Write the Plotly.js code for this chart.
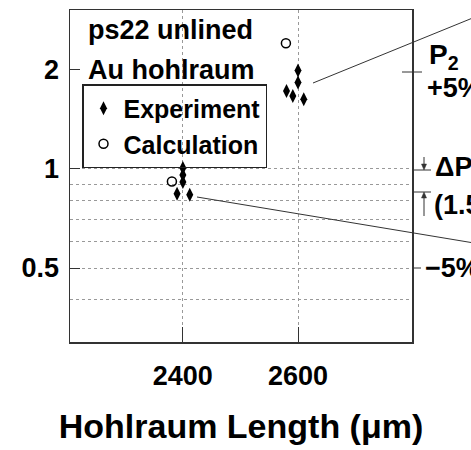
<!DOCTYPE html>
<html>
<head>
<meta charset="utf-8">
<script src="https://cdn.plot.ly/plotly-3.0.1.min.js"></script>
<style>html,body{margin:0;padding:0;background:#fff;}</style>
</head>
<body>
<div id="chart" style="width:471px;height:450px;"></div>
<script>
// Data
var expLength = [2400, 2400, 2400, 2390, 2412, 2600, 2600, 2580, 2591, 2610];
var expValue  = [1.007, 0.959, 0.913, 0.840, 0.835, 1.99, 1.83, 1.726, 1.667, 1.629];
var calcLength = [2381, 2579];
var calcValue  = [0.916, 2.41];
var yTickVals = [0.5, 1, 2];
var yTickText = ['0.5', '1', '2'];
var xTickVals = [2400, 2600];
var xTickText = ['2400', '2600'];
var yGridVals = [0.4, 0.5, 0.6, 0.7, 0.8, 0.9, 1];

var FONT = 'Liberation Sans, Arial, Helvetica, sans-serif';
var yRange = [Math.log10(0.298), Math.log10(3.04)];

var traces = [
  {x: expLength, y: expValue, type: 'scatter', mode: 'markers', name: 'Experiment',
   marker: {symbol: 'diamond-tall', size: 10, color: '#000'}},
  {x: calcLength, y: calcValue, type: 'scatter', mode: 'markers', name: 'Calculation',
   marker: {symbol: 'circle-open', size: 9, color: '#000', line: {width: 1.5, color: '#000'}}},
  // carrier for the dotted horizontal grid axis (no points)
  {x: [], y: [], type: 'scatter', mode: 'markers', yaxis: 'y2', showlegend: false, hoverinfo: 'skip'}
];

function px(p) { return (p - 70) / 342; }
function py(p) { return (342 - p) / 332; }
var LC = '#333';

function lineShape(x0, y0, x1, y1) {
  return {type: 'line', xref: 'paper', yref: 'paper', x0: px(x0), y0: py(y0), x1: px(x1), y1: py(y1),
          line: {color: LC, width: 1}};
}
function headShape(xc, ytip, dir) {
  var h = 6 * dir, w = 2.5;
  var p = 'M ' + px(xc) + ' ' + py(ytip) + ' L ' + px(xc - w) + ' ' + py(ytip - h) +
          ' L ' + px(xc + w) + ' ' + py(ytip - h) + ' Z';
  return {type: 'path', xref: 'paper', yref: 'paper', path: p,
          fillcolor: LC, line: {color: LC, width: 0.5}};
}

var layout = {
  width: 471, height: 450,
  margin: {l: 70, r: 59, t: 10, b: 108},
  paper_bgcolor: '#fff', plot_bgcolor: '#fff',
  font: {family: FONT, color: '#000', size: 26, weight: 'bold'},
  showlegend: true,
  legend: {x: px(82), y: py(84), xanchor: 'left', yanchor: 'top',
           bgcolor: 'rgba(0,0,0,0)', bordercolor: '#222', borderwidth: 1.5,
           font: {family: FONT, size: 25, weight: 'bold', color: '#000'},
           itemwidth: 30, tracegroupgap: 0},
  xaxis: {
    range: [2204, 2798], tickmode: 'array', tickvals: xTickVals, ticktext: xTickText,
    ticks: 'inside', ticklen: 15, tickwidth: 1, tickcolor: LC,
    showline: true, linecolor: LC, linewidth: 1.5, mirror: true,
    showgrid: true, gridcolor: '#999', griddash: 'dot', gridwidth: 1, zeroline: false,
    tickfont: {family: FONT, size: 27, weight: 'bold'}, ticklabelstandoff: 9,
    title: {text: 'Hohlraum Length (\u03bcm)', font: {family: FONT, size: 34, weight: 'bold'}, standoff: 24}
  },
  yaxis: {
    type: 'log', range: yRange,
    tickmode: 'array', tickvals: yTickVals, ticktext: yTickText,
    ticks: 'inside', ticklen: 10, tickwidth: 1, tickcolor: LC,
    showline: true, linecolor: LC, linewidth: 1.5, mirror: true,
    showgrid: false, zeroline: false,
    tickfont: {family: FONT, size: 27, weight: 'bold'}, ticklabelstandoff: 4
  },
  yaxis2: {
    type: 'log', range: yRange, overlaying: 'y', side: 'left',
    tickmode: 'array', tickvals: yGridVals, showticklabels: false, ticks: '',
    showgrid: true, gridcolor: '#999', griddash: 'dot', gridwidth: 1,
    showline: false, zeroline: false
  },
  annotations: [
    {xref: 'paper', yref: 'paper', x: px(86), y: py(30), xanchor: 'left', yanchor: 'middle',
     text: 'ps22 unlined', showarrow: false, font: {family: FONT, size: 27, weight: 'bold'}},
    {xref: 'paper', yref: 'paper', x: px(86), y: py(70), xanchor: 'left', yanchor: 'middle',
     text: 'Au hohlraum', showarrow: false, font: {family: FONT, size: 27, weight: 'bold'}},
    {xref: 'paper', yref: 'paper', x: px(427), y: py(57), xanchor: 'left', yanchor: 'middle',
     text: 'P<sub>2</sub>', showarrow: false, font: {family: FONT, size: 28, weight: 'bold'}},
    {xref: 'paper', yref: 'paper', x: px(425), y: py(88), xanchor: 'left', yanchor: 'middle',
     text: '+5%', showarrow: false, font: {family: FONT, size: 27, weight: 'bold'}},
    {xref: 'paper', yref: 'paper', x: px(433), y: py(167), xanchor: 'left', yanchor: 'middle',
     text: '\u0394P', showarrow: false, font: {family: FONT, size: 27, weight: 'bold'}},
    {xref: 'paper', yref: 'paper', x: px(432), y: py(205), xanchor: 'left', yanchor: 'middle',
     text: '(1.5%)', showarrow: false, font: {family: FONT, size: 27, weight: 'bold'}},
    {xref: 'paper', yref: 'paper', x: px(423), y: py(268), xanchor: 'left', yanchor: 'middle',
     text: '\u22125%', showarrow: false, font: {family: FONT, size: 27, weight: 'bold'}}
  ],
  shapes: [
    lineShape(313, 83, 480, 15),
    lineShape(197, 197, 480, 244),
    lineShape(402, 72, 422, 72),
    lineShape(413, 268, 421, 268),
    lineShape(412, 170, 431, 170),
    lineShape(412, 192, 431, 192),
    lineShape(424, 157, 424, 165),
    headShape(424, 170, 1),
    lineShape(424, 216, 424, 197),
    headShape(424, 192, -1)
  ]
};

Plotly.newPlot('chart', traces, layout, {displayModeBar: false, staticPlot: true});
</script>
</body>
</html>
